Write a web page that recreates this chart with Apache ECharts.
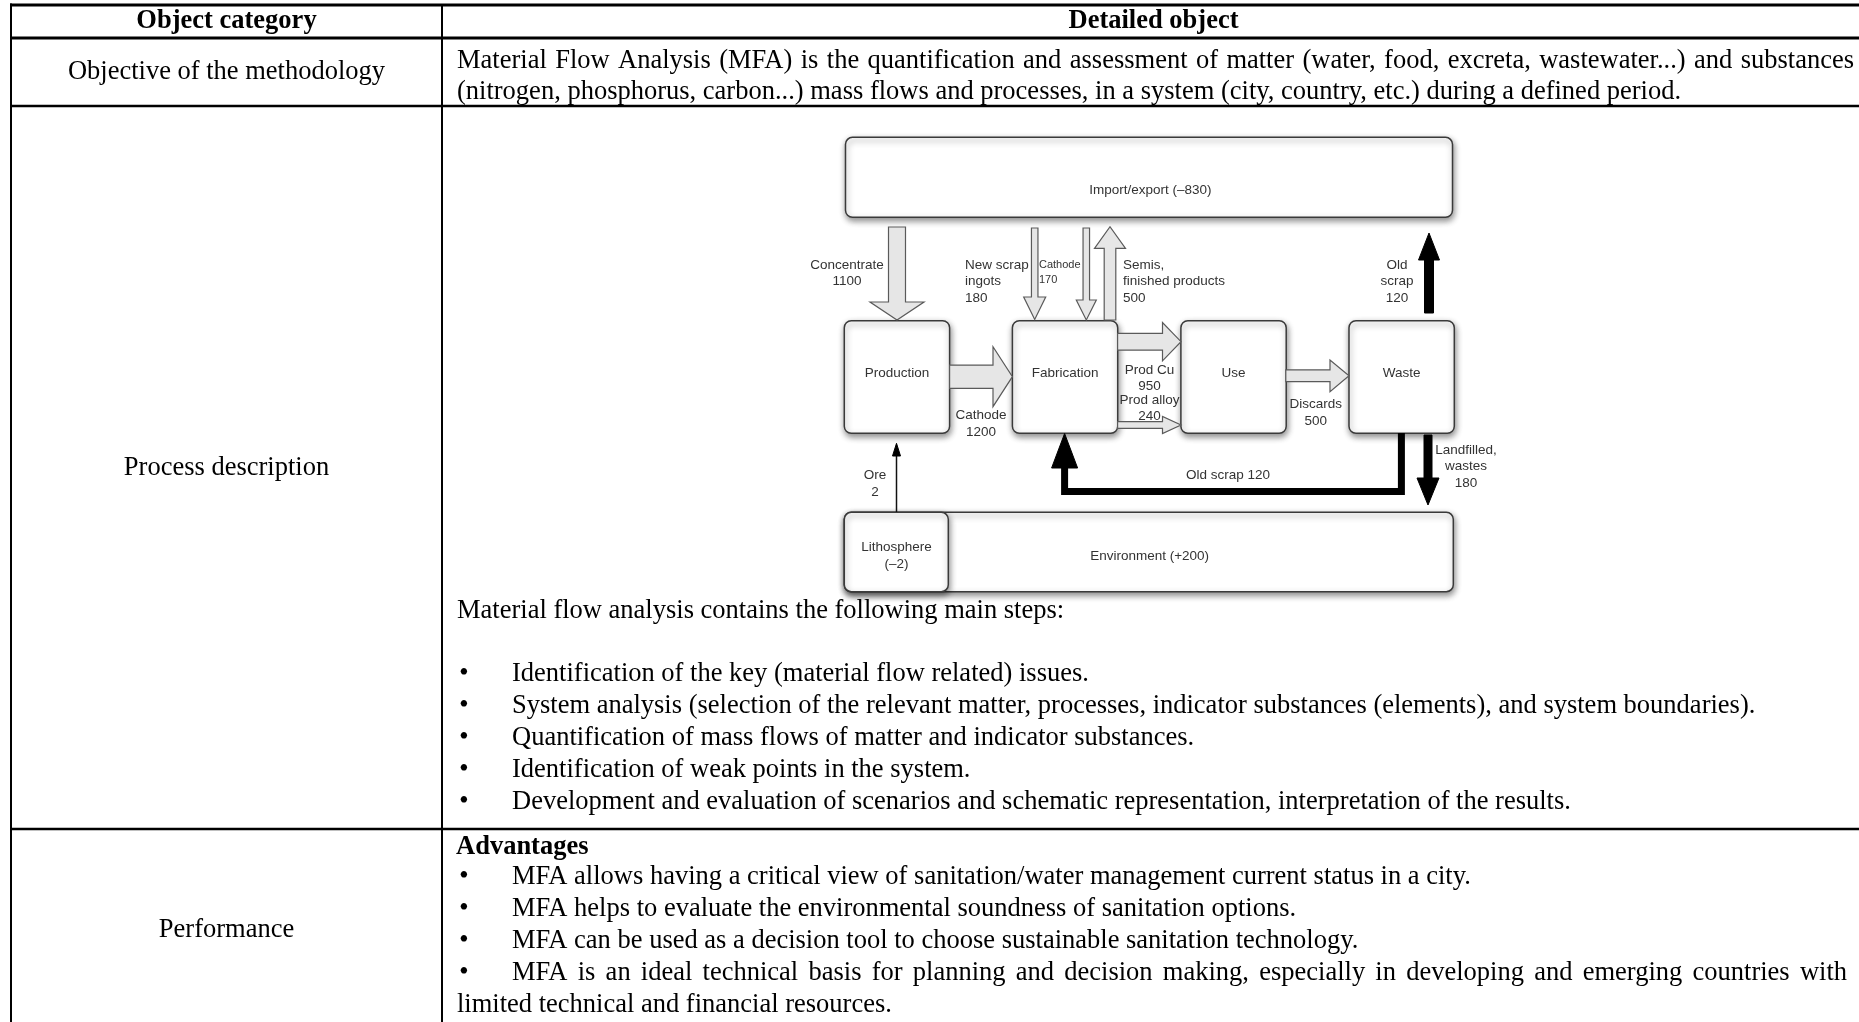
<!DOCTYPE html>
<html><head><meta charset="utf-8">
<script src="https://cdn.jsdelivr.net/npm/echarts@6/dist/echarts.min.js"></script>
<style>html,body{margin:0;padding:0;background:#fff;overflow:hidden}#c{width:1859px;height:1022px}</style>
</head><body><div id="c"></div>
<script>
// ---------------- DATA ----------------
const headers = ['Object category', 'Detailed object'];
const categories = ['Objective of the methodology', 'Process description', 'Performance'];
const objectiveLines = [
  'Material Flow Analysis (MFA) is the quantification and assessment of matter (water, food, excreta, wastewater...) and substances',
  '(nitrogen, phosphorus, carbon...) mass flows and processes, in a system (city, country, etc.) during a defined period.'
];
const stepsIntro = 'Material flow analysis contains the following main steps:';
const steps = [
  'Identification of the key (material flow related) issues.',
  'System analysis (selection of the relevant matter, processes, indicator substances (elements), and system boundaries).',
  'Quantification of mass flows of matter and indicator substances.',
  'Identification of weak points in the system.',
  'Development and evaluation of scenarios and schematic representation, interpretation of the results.'
];
const advantagesTitle = 'Advantages';
const advantages = [
  ['MFA allows having a critical view of sanitation/water management current status in a city.'],
  ['MFA helps to evaluate the environmental soundness of sanitation options.'],
  ['MFA can be used as a decision tool to choose sustainable sanitation technology.'],
  ['MFA is an ideal technical basis for planning and decision making, especially in developing and emerging countries with',
   'limited technical and financial resources.']
];
// diagram content
const processes = ['Production', 'Fabrication', 'Use', 'Waste'];
const reservoirs = ['Import/export (\u2013830)', 'Environment (+200)', 'Lithosphere', '(\u20132)'];
const flowNameLines = [
  ['Concentrate'], ['New scrap', 'ingots'], ['Cathode'], ['Semis,', 'finished products'], ['Old', 'scrap'],
  ['Cathode'], ['Prod Cu'], ['Prod alloy'], ['Discards'], ['Old scrap'], ['Landfilled,', 'wastes'], ['Ore']
];
const flowValues = [1100, 180, 170, 500, 120, 1200, 950, 240, 500, 120, 180, 2];

// ---------------- LAYOUT ----------------
const SERIF = '"Liberation Serif","Times New Roman",serif';
const SANS = '"Liberation Sans",Arial,Helvetica,sans-serif';
const FS = 26.5;
const T = {
  left: 11, div: 442, right: 1859,
  hTop: 5, hLine: 38, r1Line: 106, r2Line: 829,
  hdrY: 21, r1Y: [61, 92], catY: [72, 468, 930],
  introY: 611, stepsY0: 674, stepDy: 32, advY: 847, advY0: 877, advDy: 32,
  textX: 457, bulletX: 464, bulletTextX: 512
};
const boxY = 320.7, boxH = 112.6, boxW = 105.3;
const procX = [844.3, 1012.4, 1180.9, 1349];
const hollow = {fill: '#e6e6e6', stroke: '#5a5a5a', lineWidth: 1.2};
const solid = {fill: '#000', stroke: '#000', lineWidth: 1};
const flowLayout = [
  {k:'v', cx:897, sw:17, hw:54, y0:227, yh:302, yt:320, s:hollow, lx:847, ly:265, al:'center'},
  {k:'v', cx:1034.7, sw:6.5, hw:22, y0:228, yh:297, yt:319.5, s:hollow, lx:965, ly:265, al:'left'},
  {k:'v', cx:1086.3, sw:6.5, hw:20, y0:228, yh:300, yt:320, s:hollow, lx:1039, ly:265, al:'left', fs:11, lh:15},
  {k:'v', cx:1110, sw:11.6, hw:31, y0:320, yh:248.3, yt:226.7, s:hollow, lx:1123, ly:265, al:'left'},
  {k:'v', cx:1429, sw:9, hw:21, y0:313, yh:260, yt:233, s:solid, lx:1397, ly:265, al:'center'},
  {k:'h', cy:376.7, sh:23.3, hh:60, x0:949.6, xh:993, xt:1012.4, s:hollow, lx:981, ly:415.3, al:'center'},
  {k:'h', cy:341.7, sh:16.7, hh:38.3, x0:1117.6, xh:1162.5, xt:1181, s:hollow, lx:1149.5, ly:370, al:'center'},
  {k:'h', cy:425, sh:6.6, hh:17.3, x0:1117.6, xh:1162.5, xt:1181, s:hollow, lx:1149.5, ly:400, al:'center'},
  {k:'h', cy:375.8, sh:11.7, hh:31.7, x0:1285.8, xh:1330, xt:1349, s:hollow, lx:1315.7, ly:404.3, al:'center'},
  {k:'p', pts:[[1401.4,433],[1401.4,491.5],[1064.6,491.5],[1064.6,466]], w:7, cx:1064.6, hw:26, yh:468, yt:433.5, lx:1228, ly:475.7, al:'center', inline:true},
  {k:'v', cx:1428, sw:8, hw:22, y0:435, yh:478, yt:505, s:solid, lx:1466, ly:450, al:'center'},
  {k:'o', cx:896.5, y0:512, yh:456, yt:443.3, hw:8, lx:875, ly:475.7, al:'center'}
];

// ---------------- BUILD ----------------
const G = [];
const mctx = document.createElement('canvas').getContext('2d');
function measure(s, font) { mctx.font = font; return mctx.measureText(s).width; }
function line(x1, y1, x2, y2, w, c) {
  G.push({type:'line', silent:true, shape:{x1, y1, x2, y2}, style:{stroke:c || '#000', lineWidth:w}});
}
function text(s, x, y, font, align, fill) {
  G.push({type:'text', silent:true, x:0, y:0, style:{text:s, x, y, font, fill: fill || '#000',
    align: align || 'left', textAlign: align || 'left', verticalAlign:'middle', textVerticalAlign:'middle'}});
}
function justify(s, x0, x1, y, font) {
  const words = s.split(' ');
  const ws = words.map(w => measure(w, font));
  const tot = ws.reduce((a, b) => a + b, 0);
  const gap = (x1 - x0 - tot) / (words.length - 1);
  let x = x0;
  words.forEach((w, i) => { text(w, x, y, font, 'left'); x += ws[i] + gap; });
}
function poly(pts, style) { G.push({type:'polygon', silent:true, shape:{points:pts}, style:Object.assign({}, style)}); }
function box(x, y, w, h) {
  G.push({type:'rect', silent:true, shape:{x, y, width:w, height:h, r:7},
    style:{fill:'#fff', stroke:'#3a3a3a', lineWidth:1.5, shadowBlur:6, shadowOffsetX:1, shadowOffsetY:3, shadowColor:'rgba(0,0,0,0.45)'}});
}

const fReg = FS + 'px ' + SERIF;
const fBold = 'bold ' + FS + 'px ' + SERIF;

// table rules
line(T.left - 1, T.hTop, T.right, T.hTop, 3);
line(T.left - 1, T.hLine, T.right, T.hLine, 3);
line(T.left - 1, T.r1Line, T.right, T.r1Line, 2.5);
line(T.left - 1, T.r2Line, T.right, T.r2Line, 2.5);
line(T.left, T.hTop - 1.5, T.left, 1022, 2);
line(T.div, T.hTop, T.div, 1022, 2);

// headers
text(headers[0], (T.left + T.div) / 2, T.hdrY, fBold, 'center');
text(headers[1], (T.div + T.right) / 2 + 3, T.hdrY, fBold, 'center');
// categories
categories.forEach((c, i) => text(c, (T.left + T.div) / 2, T.catY[i], fReg, 'center'));
// objective
justify(objectiveLines[0], T.textX, 1854, T.r1Y[0], fReg);
text(objectiveLines[1], T.textX, T.r1Y[1], fReg, 'left');
// steps
text(stepsIntro, T.textX, T.introY, fReg, 'left');
steps.forEach((s, i) => {
  const y = T.stepsY0 + i * T.stepDy;
  text('\u2022', T.bulletX, y, fReg, 'center');
  text(s, T.bulletTextX, y, fReg, 'left');
});
// advantages
text(advantagesTitle, T.textX - 1, T.advY, fBold, 'left');
let row = 0;
advantages.forEach(lines => {
  lines.forEach((s, j) => {
    const y = T.advY0 + row * T.advDy;
    if (j === 0) text('\u2022', T.bulletX, y, fReg, 'center');
    if (j === 0 && lines.length > 1) justify(s, T.bulletTextX, 1847, y, fReg);
    else text(s, j === 0 ? T.bulletTextX : T.textX, y, fReg, 'left');
    row++;
  });
});

// ---- diagram ----
const fD = '13.5px ' + SANS;
const dFill = '#333';
box(845.5, 137.3, 607, 80);
text(reservoirs[0], 1150.4, 190, fD, 'center', dFill);
box(844.3, 512.3, 609, 79.4);
box(844.3, 512.3, 104, 79.4);
text(reservoirs[1], 1149.6, 556, fD, 'center', dFill);
text(reservoirs[2], 896.5, 547.7, fD, 'center', dFill);
text(reservoirs[3], 896.5, 564, fD, 'center', dFill);
processes.forEach((p, i) => {
  box(procX[i], boxY, boxW, boxH);
  text(p, procX[i] + boxW / 2, 373.3, fD, 'center', dFill);
});

flowLayout.forEach((f, i) => {
  if (f.k === 'v') {
    poly([[f.cx - f.sw/2, f.y0], [f.cx + f.sw/2, f.y0], [f.cx + f.sw/2, f.yh], [f.cx + f.hw/2, f.yh],
          [f.cx, f.yt], [f.cx - f.hw/2, f.yh], [f.cx - f.sw/2, f.yh]], f.s);
  } else if (f.k === 'h') {
    poly([[f.x0, f.cy - f.sh/2], [f.xh, f.cy - f.sh/2], [f.xh, f.cy - f.hh/2], [f.xt, f.cy],
          [f.xh, f.cy + f.hh/2], [f.xh, f.cy + f.sh/2], [f.x0, f.cy + f.sh/2]], f.s);
  } else if (f.k === 'p') {
    G.push({type:'polyline', silent:true, shape:{points:f.pts}, style:{stroke:'#000', lineWidth:f.w, fill:null, lineJoin:'miter'}});
    poly([[f.cx - f.hw/2, f.yh], [f.cx + f.hw/2, f.yh], [f.cx, f.yt]], solid);
  } else if (f.k === 'o') {
    line(f.cx, f.y0, f.cx, f.yh, 1.5, '#111');
    poly([[f.cx - f.hw/2, f.yh], [f.cx + f.hw/2, f.yh], [f.cx, f.yt]], solid);
  }
  const font = (f.fs || 13.5) + 'px ' + SANS;
  const lh = f.lh || 16.5;
  const lines = f.inline ? [flowNameLines[i].join(' ') + ' ' + flowValues[i]] : flowNameLines[i].concat([String(flowValues[i])]);
  lines.forEach((s, j) => text(s, f.lx, f.ly + j * lh, font, f.al, dFill));
});

const chart = echarts.init(document.getElementById('c'), null, {width:1859, height:1022});
chart.setOption({backgroundColor:'#fff', animation:false, graphic:{elements:G}});
</script></body></html>
